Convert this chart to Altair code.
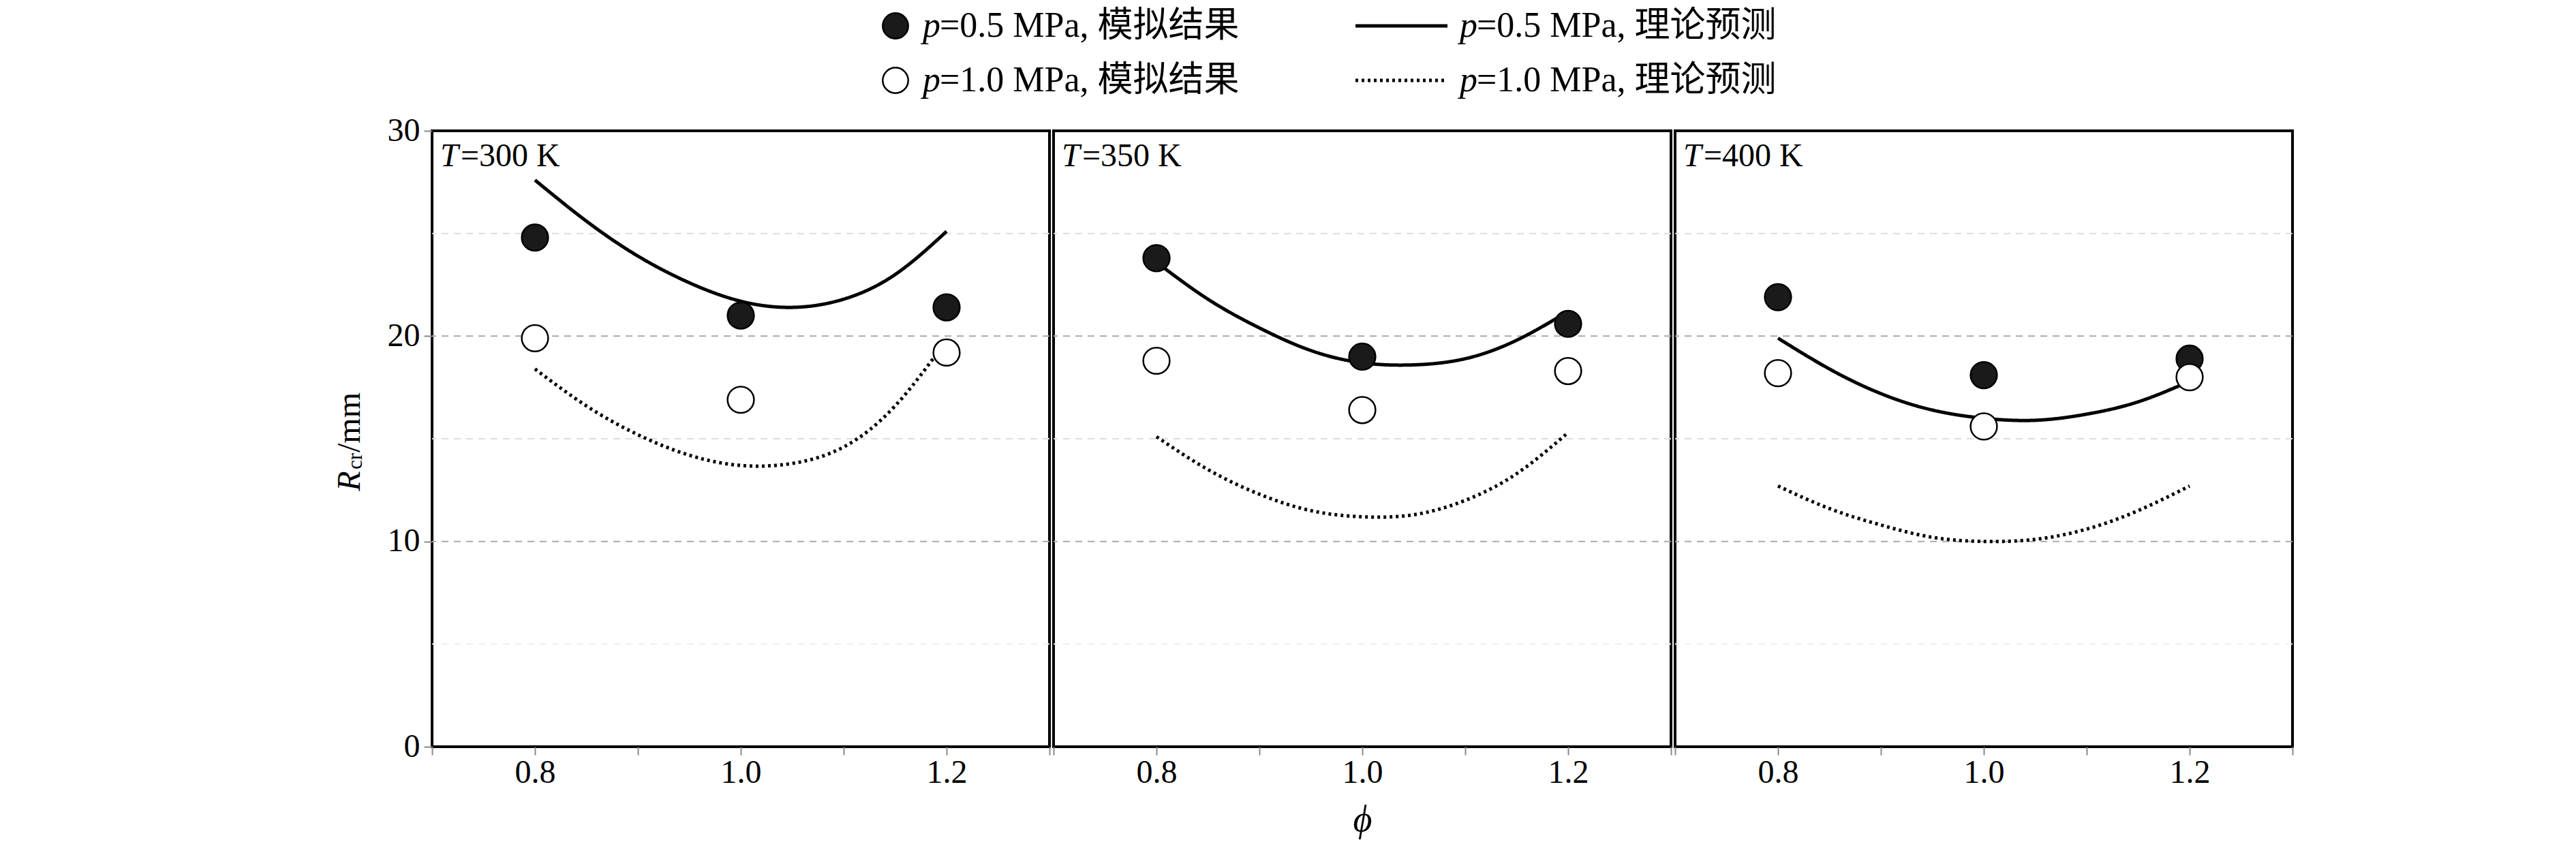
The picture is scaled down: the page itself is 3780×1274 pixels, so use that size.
import altair as alt
import pandas as pd

phi_sim = [0.8, 1.0, 1.2]
phi_curve = [0.8, 0.85, 0.9, 0.95, 1.0, 1.05, 1.1, 1.15, 1.2]
temps = ["300", "350", "400"]

sim_05 = {"300": [24.8, 21.0, 21.4], "350": [23.8, 19.0, 20.6], "400": [21.9, 18.1, 18.9]}
sim_10 = {"300": [19.9, 16.9, 19.2], "350": [18.8, 16.4, 18.3], "400": [18.2, 15.6, 18.0]}
theo_05 = {
    "300": [27.6, 25.6, 23.9, 22.6, 21.7, 21.4, 21.8, 23.0, 25.1],
    "350": [23.6, 21.8, 20.4, 19.3, 18.7, 18.6, 18.9, 19.8, 21.2],
    "400": [19.9, 18.4, 17.2, 16.4, 16.0, 15.9, 16.2, 16.8, 17.8],
}
theo_10 = {
    "300": [18.4, 16.6, 15.2, 14.2, 13.7, 13.8, 14.6, 16.6, 19.8],
    "350": [15.1, 13.5, 12.3, 11.5, 11.2, 11.3, 12.0, 13.3, 15.3],
    "400": [12.7, 11.6, 10.8, 10.2, 10.0, 10.1, 10.6, 11.5, 12.7],
}

SERIF = "Liberation Serif, Noto Sans CJK SC"
W, H = 906, 904
FS = 48

xs = alt.Scale(domain=[0.7, 1.3], nice=False)
ys = alt.Scale(domain=[0, 30], nice=False)
one = pd.DataFrame({"a": [0]})


def panel(t, first):
    sim = pd.DataFrame({"phi": phi_sim * 2, "R": sim_05[t] + sim_10[t],
                        "p": ["0.5"] * 3 + ["1.0"] * 3})
    cur = pd.DataFrame({"phi": phi_curve * 2, "R": theo_05[t] + theo_10[t],
                        "p": ["0.5"] * 9 + ["1.0"] * 9})
    yaxis = alt.Axis(values=[0, 10, 20, 30], labelFontSize=FS, labelFont=SERIF,
                     title=None, tickSize=12, tickWidth=2,
                     domain=False, grid=False, labelPadding=6) if first else None
    xaxis = alt.Axis(values=[0.7, 0.8, 0.9, 1.0, 1.1, 1.2, 1.3],
                     labelExpr="(datum.value==0.8||datum.value==1||datum.value==1.2) ? format(datum.value,'.1f') : ''",
                     labelFontSize=FS, labelFont=SERIF, tickSize=12, tickWidth=2,
                     domain=False, grid=False, title="ϕ" if t == "350" else None,
                     titleFontSize=FS + 6, titleFont=SERIF, titleFontStyle="italic",
                     titleFontWeight="normal", titlePadding=18)
    grid_df = pd.DataFrame({"g": [5, 10, 15, 20, 25], "c": ["#eee", "#aaa", "#ddd", "#aaa", "#ddd"]})
    grid = alt.Chart(grid_df).mark_rule(strokeDash=[10, 8], strokeWidth=2).encode(
        y=alt.Y("g:Q", scale=ys, axis=yaxis), color=alt.Color("c:N", scale=None))
    lines = alt.Chart(cur).mark_line(color="black", strokeWidth=5, interpolate="natural").encode(
        x=alt.X("phi:Q", scale=xs, axis=xaxis), y=alt.Y("R:Q", scale=ys),
        strokeDash=alt.StrokeDash("p:N", scale=alt.Scale(domain=["0.5", "1.0"], range=[[1, 0], [4, 5]]), legend=None),
        detail="p:N")
    pts = alt.Chart(sim).mark_point(filled=True, size=1500, stroke="black", strokeWidth=2.5, opacity=1).encode(
        x=alt.X("phi:Q", scale=xs), y=alt.Y("R:Q", scale=ys),
        fill=alt.Fill("p:N", scale=alt.Scale(domain=["0.5", "1.0"], range=["#1a1a1a", "white"]), legend=None))
    lab1 = alt.Chart(one).mark_text(
        text="T", font=SERIF, fontSize=FS, fontStyle="italic", align="left", baseline="top").encode(
        x=alt.value(12), y=alt.value(14))
    lab2 = alt.Chart(one).mark_text(
        text="=" + t + " K", font=SERIF, fontSize=FS, align="left", baseline="top").encode(
        x=alt.value(42), y=alt.value(14))
    layers = [grid, lines, pts, lab1, lab2]
    if first:
        # y title with subscript
        for s, dy, yy, fs, st in [("R", 0, 0, FS, "italic"), ("cr", 0, 0, FS * 0.65, "normal"), ("/mm", 0, 0, FS, "normal")]:
            pass
        layers.append(alt.Chart(one).mark_text(text="R", font=SERIF, fontSize=FS, fontStyle="italic",
                                               angle=270, align="center", baseline="middle").encode(
            x=alt.value(-120), y=alt.value(H / 2 + 62)))
        layers.append(alt.Chart(one).mark_text(text="cr", font=SERIF, fontSize=FS * 0.65,
                                               angle=270, align="center", baseline="middle").encode(
            x=alt.value(-112), y=alt.value(H / 2 + 33)))
        layers.append(alt.Chart(one).mark_text(text="/mm", font=SERIF, fontSize=FS,
                                               angle=270, align="left", baseline="middle").encode(
            x=alt.value(-120), y=alt.value(H / 2 + 20)))
    return alt.layer(*layers).properties(width=W, height=H)


panels = alt.hconcat(*[panel(t, i == 0) for i, t in enumerate(temps)], spacing=0)


def txt(s, x, y, italic=False):
    return alt.Chart(one).mark_text(text=s, font=SERIF, fontSize=FS + 4, align="left", baseline="middle",
                                    fontStyle="italic" if italic else "normal").encode(x=alt.value(x), y=alt.value(y))


leg_layers = []
for y, fill, dash, p in [(28, "#1a1a1a", [1, 0], "0.5"), (108, "white", [4, 5], "1.0")]:
    leg_layers.append(alt.Chart(one).mark_point(filled=True, size=1400, fill=fill, stroke="black",
                                                strokeWidth=2.5, opacity=1).encode(x=alt.value(680), y=alt.value(y)))
    leg_layers.append(txt("p", 720, y, True))
    leg_layers.append(txt("=" + p + " MPa, 模拟结果", 745, y))
    leg_layers.append(alt.Chart(one).mark_rule(strokeWidth=5, strokeDash=dash, color="black").encode(
        x=alt.value(1355), x2=alt.value(1490), y=alt.value(y)))
    leg_layers.append(txt("p", 1508, y, True))
    leg_layers.append(txt("=" + p + " MPa, 理论预测", 1533, y))
legend = alt.layer(*leg_layers).properties(width=3 * W, height=130,
                                           view=alt.ViewBackground(stroke="transparent"))

chart = alt.vconcat(legend, panels, spacing=20).properties(
    padding={"left": 480, "top": 0, "right": 10, "bottom": 5}
).configure_view(stroke="black", strokeWidth=4).configure_concat(spacing=0)

chart.save("out.html", embed_options={"renderer": "svg", "actions": False})
